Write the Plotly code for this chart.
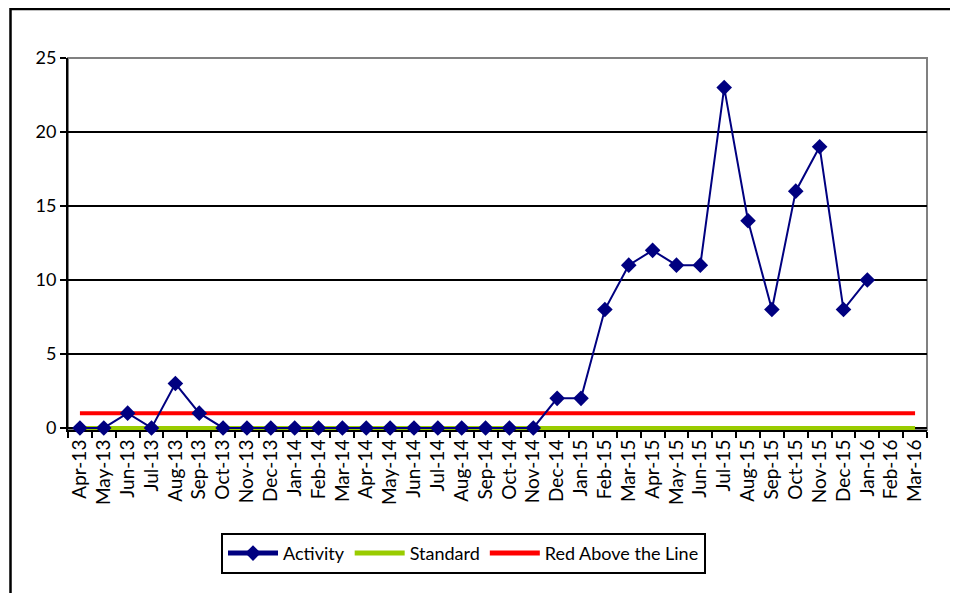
import plotly.graph_objects as go

months = ["Apr-13","May-13","Jun-13","Jul-13","Aug-13","Sep-13","Oct-13","Nov-13","Dec-13",
          "Jan-14","Feb-14","Mar-14","Apr-14","May-14","Jun-14","Jul-14","Aug-14","Sep-14",
          "Oct-14","Nov-14","Dec-14","Jan-15","Feb-15","Mar-15","Apr-15","May-15","Jun-15",
          "Jul-15","Aug-15","Sep-15","Oct-15","Nov-15","Dec-15","Jan-16","Feb-16","Mar-16"]
activity = [0,0,1,0,3,1,0,0,0,
            0,0,0,0,0,0,0,0,0,
            0,0,2,2,8,11,12,11,11,
            23,14,8,16,19,8,10,None,None]
standard = [0]*36
red_line = [1]*36

# page is offset by 8px body margin
OFF = 8
W, H = 958, 593
YMIN, YMAX = -0.14, 25
unit = 370 / 25.0
ext = -YMIN * unit
L, R, T, B = 68 - OFF, 31 + OFF, 58 - OFF, 165 + OFF - ext
pw, ph = W - L - R, H - T - B

def px_x(p):
    return (p - OFF - L) / pw

def px_y(p):
    return (H - B - (p - OFF)) / ph

font = dict(family="Lato, Open Sans, sans-serif", size=18, color="black")

fig = go.Figure()
fig.add_trace(go.Scatter(x=months, y=standard, name="Standard", mode="lines",
                         line=dict(color="#99CC00", width=4), legendrank=2))
fig.add_trace(go.Scatter(x=months, y=red_line, name="Red Above the Line", mode="lines",
                         line=dict(color="#FF0000", width=4), legendrank=3))
fig.add_trace(go.Scatter(x=months, y=activity, name="Activity", mode="lines+markers",
                         line=dict(color="#000080", width=2), legendrank=1, cliponaxis=False,
                         marker=dict(symbol="diamond", size=12, color="#000080")))

fig.update_layout(
    width=W, height=H,
    margin=dict(l=L, r=R, t=T, b=B),
    paper_bgcolor="white", plot_bgcolor="white",
    font=font,
    showlegend=True,
    legend=dict(orientation="h", x=px_x(221), y=px_y(533), xanchor="left", yanchor="top",
                bordercolor="black", borderwidth=2, font=dict(size=18),
                traceorder="normal", itemsizing="constant", itemwidth=50),
    shapes=[
        dict(type="rect", xref="paper", yref="paper", x0=0, x1=1, y0=0, y1=1,
             line=dict(color="#808080", width=2), layer="below"),
        dict(type="rect", xref="paper", yref="paper", x0=px_x(10.5), x1=px_x(1100),
             y0=px_y(800), y1=px_y(9), line=dict(color="black", width=2.5)),
    ],
)

fig.update_xaxes(type="category", categoryorder="array", categoryarray=months,
                 tickangle=-90, ticks="outside", tickson="boundaries", ticklen=6,
                 tickwidth=2, tickcolor="black", showline=True, linecolor="black",
                 linewidth=2, showgrid=False, tickfont=dict(size=19),
                 range=[-0.5, 35.5], layer="below traces")
fig.update_yaxes(range=[YMIN, YMAX], tickvals=[0,5,10,15,20,25], ticks="outside", ticklen=6,
                 tickwidth=2, tickcolor="black", showline=True, linecolor="black",
                 linewidth=2, showgrid=True, gridcolor="black", gridwidth=2,
                 zeroline=False, tickfont=dict(size=18), layer="below traces")

fig.write_html("out.html")
